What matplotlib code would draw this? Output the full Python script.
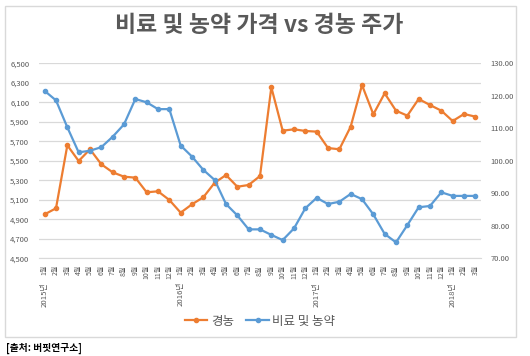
import matplotlib
matplotlib.use("Agg")
import matplotlib.pyplot as plt
from matplotlib.patches import Rectangle
from matplotlib.lines import Line2D
from matplotlib.ticker import FuncFormatter

plt.rcParams['font.family'] = ['Noto Sans CJK KR', 'DejaVu Sans']

# ---- data ----
years = [2015, 2016, 2017, 2018]
months = [f"{m}월" for m in range(1, 13)] * 3 + ["1월", "2월", "3월"]
year_labels = ["2015년", "2016년", "2017년", "2018년"]

gyeongnong = [4951, 5013, 5659, 5498, 5618, 5464, 5382, 5337, 5327, 5177,
              5187, 5098, 4968, 5054, 5126, 5275, 5354, 5234, 5252, 5344,
              6254, 5809, 5823, 5806, 5799, 5631, 5618, 5850, 6277, 5977,
              6192, 6014, 5963, 6134, 6072, 6014, 5908, 5980, 5953]
fert_pest = [121.5, 118.6, 110.3, 102.6, 103.1, 104.2, 107.4, 111.2, 119.0, 118.0,
             115.9, 115.9, 104.7, 101.3, 97.2, 94.1, 86.7, 83.2, 78.9, 78.9,
             77.2, 75.6, 79.2, 85.4, 88.6, 86.7, 87.4, 89.8, 88.2, 83.5,
             77.5, 74.9, 80.2, 85.7, 86.1, 90.3, 89.2, 89.2, 89.2]

left_ticks = list(range(4500, 6501, 200))
right_ticks = list(range(70, 131, 10))

title = "비료 및 농약 가격 vs 경농 주가"
name_a = "경농"
name_b = "비료 및 농약"
source = "[출처: 버핏연구소]"

ORANGE = "#ED7D31"
BLUE = "#5B9BD5"
GRAY = "#595959"

W, H = 530, 356
fig = plt.figure(figsize=(W / 100, H / 100), dpi=100)

# chart frame
fig.patches.append(Rectangle((5 / W, 1 - 337 / H), (516 - 5) / W, (337 - 6) / H,
                             transform=fig.transFigure, fill=False,
                             edgecolor="#D9D9D9", linewidth=1.0))

ax = fig.add_axes([39 / W, 1 - 258.3 / H, (481 - 39) / W, (258.3 - 63.3) / H])
ax2 = ax.twinx()

x = list(range(len(gyeongnong)))
ax.plot(x, gyeongnong, color=ORANGE, lw=1.6, marker='o', ms=3.0, zorder=3)
ax2.plot(x, fert_pest, color=BLUE, lw=1.6, marker='o', ms=3.0, zorder=3)

ax.set_xlim(-0.5, len(x) - 0.5)
ax.set_ylim(left_ticks[0], left_ticks[-1])
ax.set_yticks(left_ticks)
ax.yaxis.set_major_formatter(FuncFormatter(lambda v, p: f"{int(v):,}"))
ax2.set_ylim(right_ticks[0], right_ticks[-1])
ax2.set_yticks(right_ticks)
ax2.yaxis.set_major_formatter(FuncFormatter(lambda v, p: f"{v:.2f}"))

ax.grid(axis='y', color="#D9D9D9", lw=0.9)
ax.set_axisbelow(True)
for a in (ax, ax2):
    for s in a.spines.values():
        s.set_visible(False)
ax.spines['bottom'].set_visible(True)
ax.spines['bottom'].set_color("#D9D9D9")

ax.tick_params(axis='y', length=0, pad=7, labelsize=5.5, labelcolor=GRAY)
ax2.tick_params(axis='y', length=0, pad=7, labelsize=5.5, labelcolor=GRAY)

ax.set_xticks(x)
ax.set_xticklabels(months, rotation=90, fontsize=5.0, color=GRAY, va='top')
ax.tick_params(axis='x', length=0, pad=5)

for i, yl in enumerate(year_labels):
    ax.annotate(yl, xy=(i * 12, 0), xycoords=('data', 'axes fraction'),
                xytext=(0, -17), textcoords='offset points',
                rotation=90, ha='center', va='top', fontsize=5.6, color=GRAY)

fig.text(259 / W, 1 - 25 / H, title, ha='center', va='center',
         fontsize=16.5, fontweight='bold', color=GRAY)

handles = [Line2D([], [], color=ORANGE, lw=1.6, marker='o', ms=3),
           Line2D([], [], color=BLUE, lw=1.6, marker='o', ms=3)]
fig.legend(handles, [name_a, name_b], loc='center', bbox_to_anchor=(260 / W, 1 - 321 / H),
           ncol=2, frameon=False, fontsize=9, handlelength=1.8, handletextpad=0.3,
           columnspacing=1.0, labelcolor=GRAY)

fig.text(6 / W, 1 - 348 / H, source, ha='left', va='center', fontsize=7,
         fontweight='bold', color='black')

fig.savefig("out.png", dpi=100)
